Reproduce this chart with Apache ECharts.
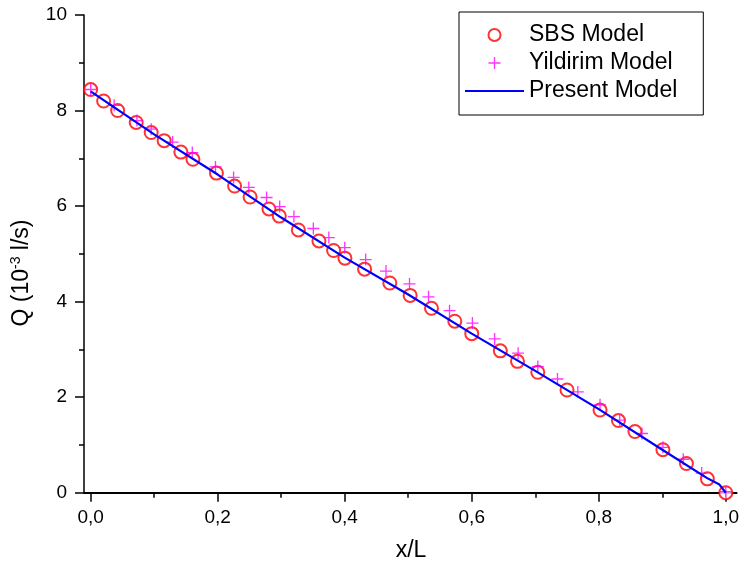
<!DOCTYPE html>
<html>
<head>
<meta charset="utf-8">
<script src="https://cdn.jsdelivr.net/npm/echarts@6/dist/echarts.min.js"></script>
<style>html,body{margin:0;padding:0;background:#fff;}#c{width:742px;height:569px;}</style>
</head>
<body>
<div id="c"></div>
<script>
var sbsX = [0, 0.0204, 0.0425, 0.0717, 0.0953, 0.1157, 0.142, 0.161, 0.198, 0.2266, 0.251, 0.2807, 0.297, 0.327, 0.3594, 0.3825, 0.4003, 0.4313, 0.471, 0.503, 0.5366, 0.5733, 0.600, 0.645, 0.672, 0.704, 0.750, 0.802, 0.831, 0.857, 0.901, 0.938, 0.971, 1.0];
var sbsY = [8.44, 8.20, 8.00, 7.75, 7.54, 7.37, 7.13, 6.98, 6.69, 6.42, 6.19, 5.94, 5.79, 5.50, 5.27, 5.07, 4.91, 4.68, 4.39, 4.13, 3.86, 3.59, 3.33, 2.97, 2.75, 2.52, 2.15, 1.73, 1.51, 1.28, 0.90, 0.61, 0.29, 0.0];
var yilX = [0, 0.037, 0.0728, 0.0953, 0.129, 0.160, 0.1965, 0.225, 0.249, 0.277, 0.2976, 0.320, 0.3506, 0.375, 0.400, 0.433, 0.465, 0.502, 0.532, 0.565, 0.601, 0.636, 0.673, 0.704, 0.735, 0.767, 0.802, 0.833, 0.868, 0.901, 0.933, 0.962, 1.0];
var yilY = [8.44, 8.11, 7.79, 7.61, 7.34, 7.12, 6.82, 6.60, 6.39, 6.18, 5.99, 5.78, 5.53, 5.34, 5.13, 4.88, 4.64, 4.37, 4.10, 3.81, 3.55, 3.22, 2.92, 2.64, 2.38, 2.11, 1.84, 1.52, 1.24, 0.95, 0.70, 0.41, 0.02];
var presX = [0, 0.1, 0.2, 0.3, 0.4, 0.5, 0.6, 0.7, 0.8, 0.9, 0.97, 0.99, 1.0];
var presY = [8.40, 7.50, 6.66, 5.76, 4.92, 4.15, 3.33, 2.55, 1.75, 0.90, 0.31, 0.17, 0.0];
var xTicks = [0, 0.2, 0.4, 0.6, 0.8, 1.0];
var xMinorTicks = [0.1, 0.3, 0.5, 0.7, 0.9];
var seriesNames = ['SBS Model', 'Yildirim Model', 'Present Model'];

function zip(a, b) { return a.map(function (v, i) { return [v, b[i]]; }); }
var FONT = '"Liberation Sans", Arial, sans-serif';
var plusPath = 'path://M4.45,0H5.55V4.45H10V5.55H5.55V10H4.45V5.55H0V4.45H4.45Z';

var chart = echarts.init(document.getElementById('c'), null, {renderer: 'canvas'});
chart.setOption({
  backgroundColor: '#ffffff',
  animation: false,
  textStyle: {fontFamily: FONT},
  grid: {left: 84, top: 15, right: 4.5, bottom: 76.3, containLabel: false},
  legend: {
    data: [
      {name: seriesNames[0]},
      {name: seriesNames[1]},
      {name: seriesNames[2], icon: 'path://M0,0H59V2H0Z', itemStyle: {color: '#0000ff'}}
    ],
    orient: 'vertical',
    left: 459, top: 12,
    padding: [11, 26, 12, 6],
    borderColor: '#000', borderWidth: 1,
    itemWidth: 59, itemHeight: 12, itemGap: 4,
    selectedMode: false,
    textStyle: {fontSize: 23, color: '#000', fontFamily: FONT, lineHeight: 24}
  },
  xAxis: [{
    type: 'value', min: -0.0105, max: 1.017, position: 'bottom', offset: 0,
    axisLine: {show: true, onZero: false, lineStyle: {color: '#000', width: 2}},
    axisTick: {show: true, length: 9, customValues: xTicks, lineStyle: {color: '#000', width: 1.5}},
    axisLabel: {show: true, customValues: xTicks, margin: 16, fontSize: 19, color: '#000', fontFamily: FONT,
      formatter: function (v) { return v.toFixed(1).replace('.', ','); }},
    splitLine: {show: false}
  }, {
    type: 'value', min: -0.0105, max: 1.017, position: 'bottom', offset: 0,
    axisLine: {show: false, onZero: false},
    axisTick: {show: true, length: 5, customValues: xMinorTicks, lineStyle: {color: '#000', width: 1.5}},
    axisLabel: {show: false},
    splitLine: {show: false}
  }],
  yAxis: {
    type: 'value', min: 0, max: 10, interval: 2,
    axisLine: {show: true, onZero: false, lineStyle: {color: '#000', width: 1.5}},
    axisTick: {show: true, length: 9, lineStyle: {color: '#000', width: 1.5}},
    minorTick: {show: true, splitNumber: 2, length: 5, lineStyle: {color: '#000', width: 1.5}},
    axisLabel: {margin: 17, fontSize: 19, color: '#000', fontFamily: FONT},
    splitLine: {show: false}
  },
  graphic: [
    {type: 'text', x: 22, y: 273, rotation: Math.PI / 2,
      style: {text: '{a|Q (10}{b|-3}{a| l/s)}', textAlign: 'center', textVerticalAlign: 'middle', fill: '#000',
        rich: {a: {fontSize: 23, fontFamily: FONT, fill: '#000', lineHeight: 26},
               b: {fontSize: 14, fontFamily: FONT, fill: '#000', verticalAlign: 'top', lineHeight: 14}}}},
    {type: 'text', x: 411, y: 551,
      style: {text: 'x/L', fontSize: 23, fontFamily: FONT, fill: '#000', textAlign: 'center', textVerticalAlign: 'middle'}}
  ],
  series: [{
    name: seriesNames[0], type: 'scatter', xAxisIndex: 0,
    data: zip(sbsX, sbsY),
    symbol: 'emptyCircle', symbolSize: 13,
    itemStyle: {color: '#ff0000', borderColor: '#ff0000', borderWidth: 1}
  }, {
    name: seriesNames[1], type: 'scatter', xAxisIndex: 0,
    data: zip(yilX, yilY),
    symbol: plusPath, symbolSize: 12,
    itemStyle: {color: '#ff00ff'}
  }, {
    name: seriesNames[2], type: 'line', xAxisIndex: 0,
    data: zip(presX, presY),
    showSymbol: false, symbol: 'none', smooth: false,
    lineStyle: {color: '#0000ff', width: 2.2},
    itemStyle: {color: '#0000ff'}
  }]
});
</script>
</body>
</html>
